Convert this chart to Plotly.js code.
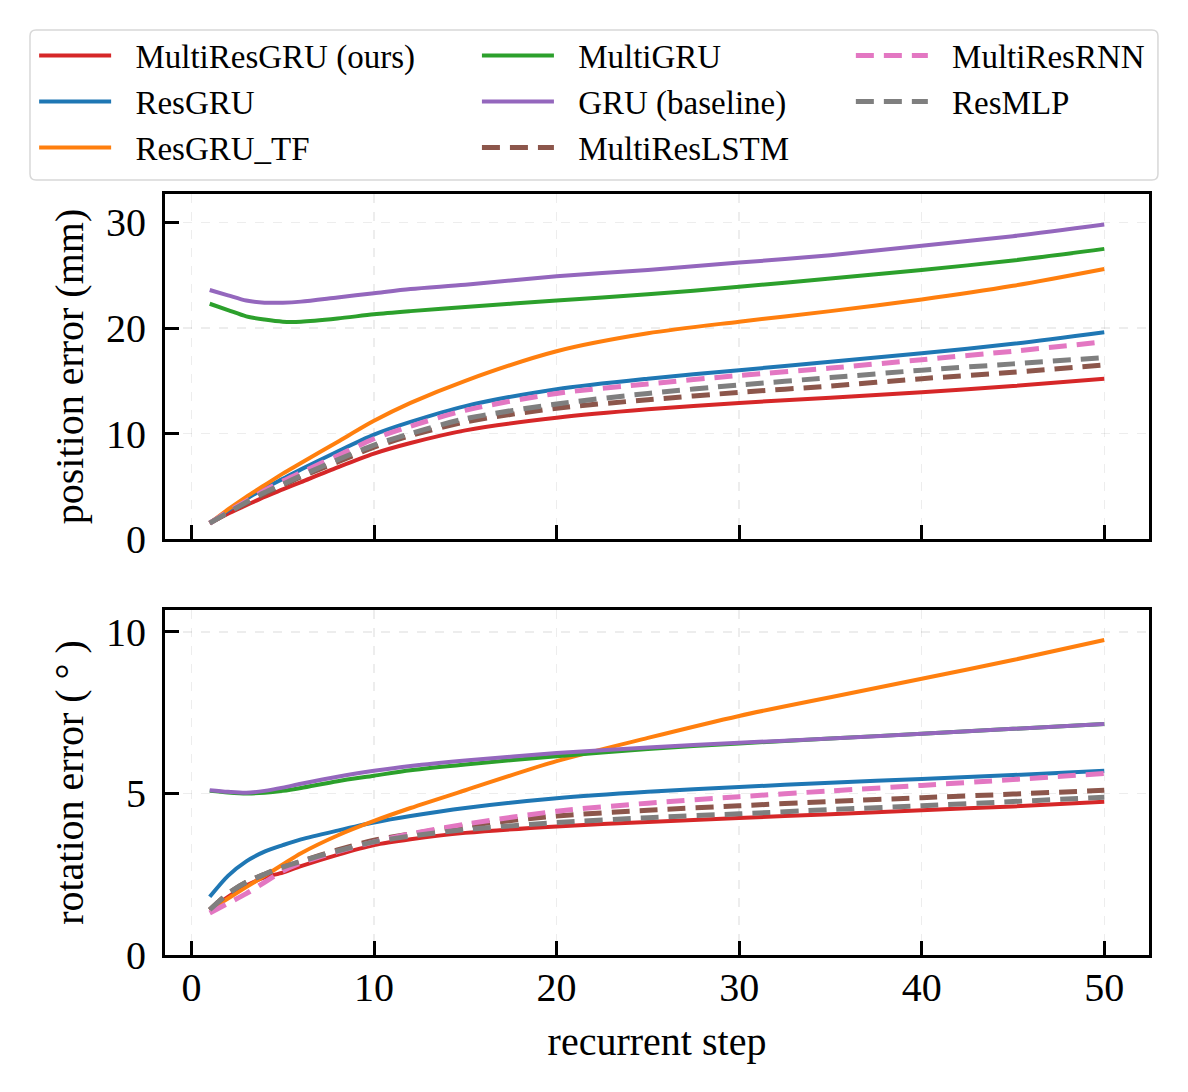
<!DOCTYPE html>
<html>
<head>
<meta charset="utf-8">
<script src="https://cdn.plot.ly/plotly-3.0.1.min.js"></script>
<style>
  body { margin: 0; background: #fff; }
  #chart { width: 1188px; height: 1092px; }
</style>
</head>
<body>
<div id="chart"></div>
<script>
var steps = [1, 2, 3, 4, 5, 6, 8, 10, 12, 15, 20, 25, 30, 35, 40, 45, 50];

// position error (mm)
var posMultiResGRU = [1.5, 2.4, 3.2, 4.0, 4.7, 5.4, 6.8, 8.1, 9.1, 10.3, 11.5, 12.3, 12.9, 13.4, 13.9, 14.5, 15.2];
var posResGRU      = [1.5, 2.7, 3.8, 4.8, 5.7, 6.6, 8.3, 9.9, 11.1, 12.6, 14.2, 15.2, 16.0, 16.8, 17.6, 18.5, 19.6];
var posResGRU_TF   = [1.5, 2.8, 4.0, 5.1, 6.2, 7.2, 9.2, 11.2, 12.9, 15.0, 17.8, 19.5, 20.6, 21.6, 22.7, 24.0, 25.6];
var posMultiGRU    = [22.3, 21.7, 21.1, 20.8, 20.6, 20.6, 20.9, 21.3, 21.6, 22.0, 22.6, 23.2, 23.9, 24.7, 25.5, 26.4, 27.5];
var posGRU         = [23.6, 23.1, 22.6, 22.4, 22.4, 22.5, 22.9, 23.3, 23.7, 24.1, 24.9, 25.5, 26.2, 26.9, 27.8, 28.7, 29.8];
var posMultiResLSTM = [1.5, 2.5, 3.4, 4.3, 5.1, 5.9, 7.3, 8.7, 9.8, 11.1, 12.4, 13.2, 13.9, 14.5, 15.2, 15.8, 16.5];
var posMultiResRNN = [1.5, 2.6, 3.6, 4.6, 5.5, 6.3, 7.9, 9.5, 10.7, 12.2, 13.8, 14.7, 15.5, 16.2, 17.0, 17.8, 18.7];
var posResMLP      = [1.5, 2.5, 3.5, 4.4, 5.2, 6.0, 7.5, 8.9, 10.0, 11.4, 12.8, 13.8, 14.6, 15.3, 16.0, 16.6, 17.2];

// rotation error (deg)
var rotMultiResGRU = [1.4, 1.8, 2.15, 2.4, 2.55, 2.75, 3.1, 3.4, 3.58, 3.78, 3.98, 4.12, 4.24, 4.36, 4.48, 4.6, 4.74];
var rotResGRU      = [1.8, 2.45, 2.9, 3.2, 3.4, 3.58, 3.85, 4.1, 4.3, 4.55, 4.85, 5.05, 5.2, 5.33, 5.45, 5.57, 5.7];
var rotResGRU_TF   = [1.4, 1.75, 2.1, 2.45, 2.8, 3.15, 3.7, 4.15, 4.55, 5.1, 6.0, 6.72, 7.4, 7.98, 8.55, 9.13, 9.75];
var rotMultiGRU    = [5.08, 5.03, 5.0, 5.02, 5.08, 5.17, 5.38, 5.55, 5.72, 5.9, 6.15, 6.38, 6.55, 6.7, 6.85, 7.0, 7.15];
var rotGRU         = [5.1, 5.05, 5.02, 5.08, 5.18, 5.3, 5.52, 5.7, 5.85, 6.02, 6.25, 6.42, 6.57, 6.7, 6.85, 7.0, 7.15];
var rotMultiResLSTM = [1.4, 1.9, 2.25, 2.5, 2.72, 2.9, 3.25, 3.55, 3.75, 4.0, 4.3, 4.48, 4.62, 4.75, 4.87, 4.98, 5.1];
var rotMultiResRNN = [1.3, 1.6, 1.9, 2.25, 2.6, 2.85, 3.2, 3.5, 3.75, 4.05, 4.45, 4.7, 4.9, 5.08, 5.25, 5.43, 5.62];
var rotResMLP      = [1.4, 1.9, 2.25, 2.5, 2.72, 2.9, 3.22, 3.5, 3.68, 3.88, 4.1, 4.25, 4.37, 4.5, 4.62, 4.75, 4.88];

var models = [
  {name: 'MultiResGRU (ours)', color: '#d62728', dash: 'solid', pos: posMultiResGRU, rot: rotMultiResGRU, legend: 'legend'},
  {name: 'ResGRU', color: '#1f77b4', dash: 'solid', pos: posResGRU, rot: rotResGRU, legend: 'legend'},
  {name: 'ResGRU_TF', color: '#ff7f0e', dash: 'solid', pos: posResGRU_TF, rot: rotResGRU_TF, legend: 'legend'},
  {name: 'MultiGRU', color: '#2ca02c', dash: 'solid', pos: posMultiGRU, rot: rotMultiGRU, legend: 'legend2'},
  {name: 'GRU (baseline)', color: '#9467bd', dash: 'solid', pos: posGRU, rot: rotGRU, legend: 'legend2'},
  {name: 'MultiResLSTM', color: '#8c564b', dash: '18px,10px', pos: posMultiResLSTM, rot: rotMultiResLSTM, legend: 'legend2'},
  {name: 'MultiResRNN', color: '#e377c2', dash: '18px,10px', pos: posMultiResRNN, rot: rotMultiResRNN, legend: 'legend3'},
  {name: 'ResMLP', color: '#7f7f7f', dash: '18px,10px', pos: posResMLP, rot: rotResMLP, legend: 'legend3'}
];

// small gap between legend line and its label
var pad = '\u2002\u200A';

var data = [];
models.forEach(function(m) {
  var w = m.dash === 'solid' ? 4 : 5;
  data.push({
    x: steps, y: m.pos, type: 'scatter', mode: 'lines', name: pad + m.name,
    line: {color: m.color, width: w, dash: m.dash, shape: 'spline', smoothing: 0.8},
    xaxis: 'x', yaxis: 'y', legend: m.legend, showlegend: true
  });
});
models.forEach(function(m) {
  var w = m.dash === 'solid' ? 4 : 5;
  data.push({
    x: steps, y: m.rot, type: 'scatter', mode: 'lines', name: m.name,
    line: {color: m.color, width: w, dash: m.dash, shape: 'spline', smoothing: 0.8},
    xaxis: 'x2', yaxis: 'y2', showlegend: false
  });
});

var font = {family: '"Liberation Serif", "Times New Roman", serif', color: '#000'};
var tickFont = {family: font.family, size: 40, color: '#000'};
var gridCol = 'rgba(0,0,0,0.07)';

function xAxis(labels, anchor) {
  return {
    anchor: anchor, range: [-1.45, 52.45], tickvals: [0, 10, 20, 30, 40, 50],
    showticklabels: labels, ticks: 'inside', ticklen: 14, tickwidth: 3, tickcolor: '#000',
    showline: true, linecolor: '#000', linewidth: 3, mirror: true,
    showgrid: true, gridcolor: gridCol, griddash: 'dash', gridwidth: 1.5,
    zeroline: false, tickfont: tickFont, ticklabelstandoff: -5, fixedrange: true
  };
}
function yAxis(range, vals, title, domain, anchor) {
  return {
    anchor: anchor, domain: domain, range: range, tickvals: vals,
    ticks: 'inside', ticklen: 14, tickwidth: 3, tickcolor: '#000',
    showline: true, linecolor: '#000', linewidth: 3, mirror: true,
    showgrid: true, gridcolor: gridCol, griddash: 'dash', gridwidth: 1.5,
    zeroline: false, tickfont: tickFont, ticklabelstandoff: 8,
    title: {text: title, font: {family: font.family, size: 40, color: '#000'}, standoff: 10},
    fixedrange: true
  };
}

var legendBase = {
  orientation: 'v', xanchor: 'left', yanchor: 'top', y: 1.2186,
  bgcolor: 'rgba(0,0,0,0)', borderwidth: 0,
  font: {family: font.family, size: 33, color: '#000'},
  itemwidth: 72, tracegroupgap: 0
};

// rounded legend frame, in paper units
var bx0 = -0.1372, bx1 = 1.0091, by0 = 1.0184, by1 = 1.2155, rx = 0.0061, ry = 0.0079;
var framePath = 'M' + (bx0 + rx) + ',' + by1 +
  ' L' + (bx1 - rx) + ',' + by1 + ' Q' + bx1 + ',' + by1 + ' ' + bx1 + ',' + (by1 - ry) +
  ' L' + bx1 + ',' + (by0 + ry) + ' Q' + bx1 + ',' + by0 + ' ' + (bx1 - rx) + ',' + by0 +
  ' L' + (bx0 + rx) + ',' + by0 + ' Q' + bx0 + ',' + by0 + ' ' + bx0 + ',' + (by0 + ry) +
  ' L' + bx0 + ',' + (by1 - ry) + ' Q' + bx0 + ',' + by1 + ' ' + (bx0 + rx) + ',' + by1 + ' Z';

var layout = {
  width: 1188, height: 1092,
  margin: {l: 165, r: 39, t: 194, b: 137},
  paper_bgcolor: '#fff', plot_bgcolor: '#fff',
  font: font,
  showlegend: true,
  xaxis: xAxis(false, 'y'),
  yaxis: yAxis([0, 32.7], [0, 10, 20, 30], 'position error (mm)', [0.5466, 1], 'x'),
  xaxis2: Object.assign(xAxis(true, 'y2'), {title: {text: 'recurrent step', font: {family: font.family, size: 40, color: '#000'}, standoff: 18}}),
  yaxis2: yAxis([0, 10.68], [0, 5, 10], 'rotation error ( ° )', [0, 0.4534], 'x2'),
  legend: Object.assign({}, legendBase, {x: -0.133}),
  legend2: Object.assign({}, legendBase, {x: 0.317}),
  legend3: Object.assign({}, legendBase, {x: 0.697}),
  shapes: [{
    type: 'path', xref: 'paper', yref: 'paper', path: framePath,
    line: {color: '#d8d8d8', width: 1.5}, fillcolor: 'rgba(255,255,255,0.8)', layer: 'below'
  }]
};

var config = {responsive: false, displayModeBar: false, staticPlot: true};
Plotly.newPlot('chart', data, layout, config);
</script>
</body>
</html>
